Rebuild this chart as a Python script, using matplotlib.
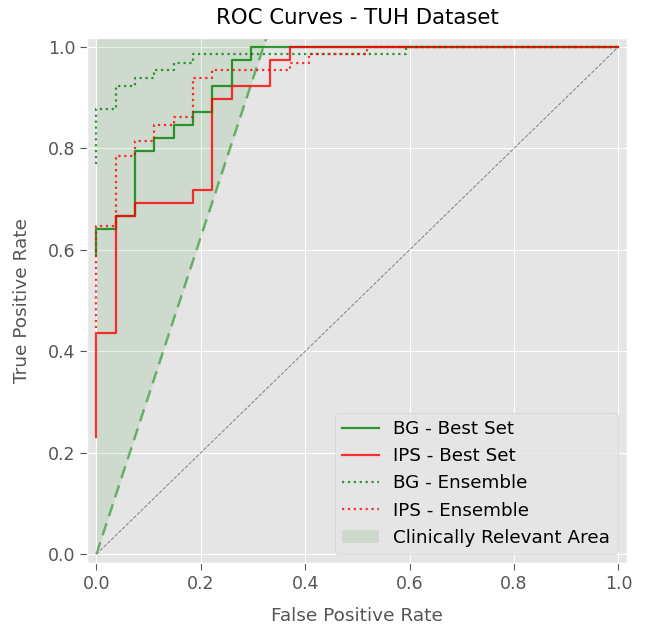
import numpy as np
import matplotlib
matplotlib.use('Agg')
import matplotlib.pyplot as plt

# ROC points
bg_best_fpr = [0.0, 0.0, 0.037, 0.037, 0.074, 0.074, 0.111, 0.111, 0.148, 0.148, 0.185, 0.185,
               0.222, 0.222, 0.259, 0.259, 0.296, 0.296, 1.0]
bg_best_tpr = [0.590, 0.641, 0.641, 0.667, 0.667, 0.795, 0.795, 0.821, 0.821, 0.846, 0.846, 0.872,
               0.872, 0.923, 0.923, 0.974, 0.974, 1.0, 1.0]

ips_best_fpr = [0.0, 0.0, 0.037, 0.037, 0.074, 0.074, 0.185, 0.185, 0.222, 0.222, 0.259, 0.259,
                0.333, 0.333, 0.370, 0.370, 1.0]
ips_best_tpr = [0.231, 0.436, 0.436, 0.667, 0.667, 0.692, 0.692, 0.718, 0.718, 0.897, 0.897, 0.923,
                0.923, 0.974, 0.974, 1.0, 1.0]

bg_ens_fpr = [0.0, 0.0, 0.037, 0.037, 0.074, 0.074, 0.111, 0.111, 0.148, 0.148, 0.185, 0.185,
              0.593, 0.593, 1.0]
bg_ens_tpr = [0.769, 0.877, 0.877, 0.923, 0.923, 0.938, 0.938, 0.954, 0.954, 0.969, 0.969, 0.985,
              0.985, 1.0, 1.0]

ips_ens_fpr = [0.0, 0.0, 0.037, 0.037, 0.074, 0.074, 0.111, 0.111, 0.148, 0.148, 0.185, 0.185,
               0.222, 0.222, 0.370, 0.370, 0.407, 0.407, 0.519, 0.519, 1.0]
ips_ens_tpr = [0.446, 0.646, 0.646, 0.785, 0.785, 0.815, 0.815, 0.846, 0.846, 0.862, 0.862, 0.938,
               0.938, 0.954, 0.954, 0.969, 0.969, 0.985, 0.985, 1.0, 1.0]

# clinically relevant boundary: TPR = FPR / 0.32
relevant_fpr_at_full = 0.32

plt.style.use('ggplot')
fig = plt.figure(figsize=(6.46, 6.29), dpi=100)
ax = fig.add_axes([0.1347, 0.1044, 0.8355, 0.8356])

ys = np.array([0.0, 1.1])
fill = ax.fill_betweenx(ys, 0, ys * relevant_fpr_at_full, color='green', alpha=0.1, lw=0,
                        label='Clinically Relevant Area')
ax.plot(ys * relevant_fpr_at_full, ys, color='green', alpha=0.5, ls='--', lw=1.8, dashes=(5, 3))
ax.plot([0, 1], [0, 1], color='gray', ls='--', lw=0.7)

l1, = ax.plot(bg_best_fpr, bg_best_tpr, color='green', alpha=0.8, lw=1.6, label='BG - Best Set')
l2, = ax.plot(ips_best_fpr, ips_best_tpr, color='red', alpha=0.8, lw=1.6, label='IPS - Best Set')
l3, = ax.plot(bg_ens_fpr, bg_ens_tpr, color='green', alpha=0.8, lw=1.6, ls=':', label='BG - Ensemble')
l4, = ax.plot(ips_ens_fpr, ips_ens_tpr, color='red', alpha=0.8, lw=1.6, ls=':', label='IPS - Ensemble')

ax.set_xlim(-0.018, 1.016)
ax.set_ylim(-0.018, 1.018)
ax.set_xticks([0, 0.2, 0.4, 0.6, 0.8, 1.0])
ax.set_yticks([0, 0.2, 0.4, 0.6, 0.8, 1.0])
ax.tick_params(labelsize=12.5, length=5)
ax.set_xlabel('False Positive Rate', fontsize=13.3, labelpad=10)
ax.set_ylabel('True Positive Rate', fontsize=13.3, labelpad=12)
ax.set_title('ROC Curves - TUH Dataset', fontsize=15.3, color='black', pad=10)
ax.legend(handles=[l1, l2, l3, l4, fill], loc='lower right', fontsize=13.2)

fig.savefig('out.png', dpi=100)
